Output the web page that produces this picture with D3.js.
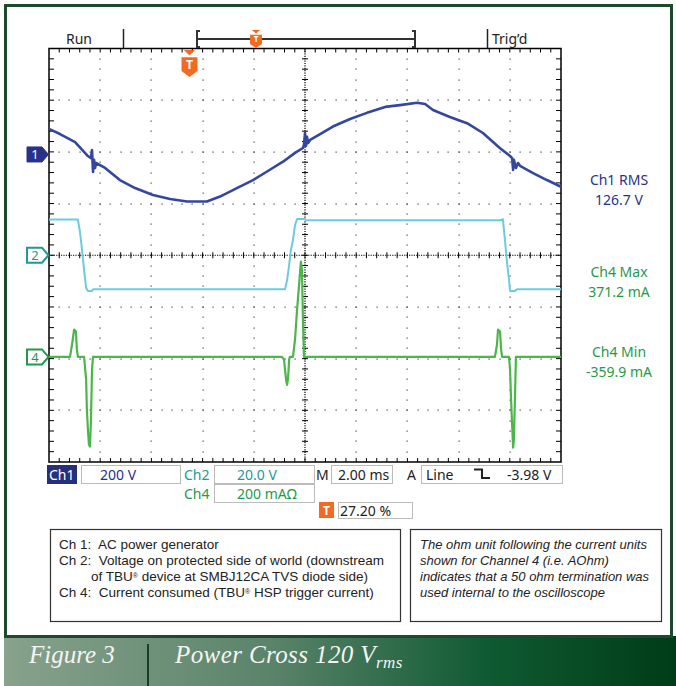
<!DOCTYPE html>
<html>
<head>
<meta charset="utf-8">
<script src="https://cdn.jsdelivr.net/npm/d3@7"></script>
<style>
  body { margin: 0; background: #fff; }
  text { font-family: "Noto Sans", sans-serif; white-space: pre; }
</style>
</head>
<body>
<div id="chart"></div>
<script>
// time in ms (2 ms/div, 10 div)
const ch1Time = [0, 0.43, 1.02, 1.52, 1.64, 1.68, 1.72, 1.76, 1.80, 1.84, 2.19, 2.77, 3.36, 4.06, 4.73, 5.39, 6.17, 6.68, 7.34, 7.97, 8.55, 9.14, 9.61, 9.92, 9.96, 10.0, 10.04, 10.08, 10.12, 10.20, 10.59, 11.09, 11.76, 12.42, 13.13, 13.71, 14.38, 14.69, 15.0, 15.66, 16.33, 16.95, 17.62, 18.01, 18.09, 18.13, 18.16, 18.24, 18.32, 18.40, 18.91, 19.45, 20];
// Ch1 volts (200 V/div)
const ch1Volts = [99, 79, 48, -6, -14, 17, -68, -21, -52, -33, -52, -99, -130, -157, -172, -182, -182, -163, -130, -99, -64, -28, 6, 25, 37, 83, 33, 68, 44, 56, 79, 108, 137, 161, 184, 191, 200, 195, 172, 145, 121, 83, 24, -6, -14, -60, -21, -52, -33, -44, -72, -99, -125];

const ch2Time = [0, 1.13, 1.21, 1.29, 1.37, 1.45, 1.52, 1.68, 1.72, 9.22, 9.30, 9.38, 9.45, 9.53, 9.61, 9.69, 10.0, 10.04, 17.62, 17.73, 17.81, 17.89, 17.97, 18.01, 18.20, 18.28, 20];
// Ch2 volts (20 V/div)
const ch2Volts = [13.8, 13.8, 9.0, 2.1, -5.7, -12.6, -13.8, -13.8, -13.2, -13.2, -9.6, -3.8, 2.1, 5.9, 11.7, 14.0, 14.0, 13.5, 13.5, 14.0, 5.9, -2.6, -9.6, -13.8, -13.8, -13.2, -13.2];

const ch4Time = [0, 0.82, 0.90, 0.98, 1.05, 1.09, 1.13, 1.37, 1.45, 1.48, 1.52, 1.56, 1.60, 1.64, 1.68, 1.72, 9.10, 9.18, 9.26, 9.30, 9.34, 9.38, 9.41, 9.53, 9.61, 9.69, 9.77, 9.84, 9.88, 9.92, 9.96, 17.42, 17.50, 17.54, 17.62, 17.66, 17.70, 17.97, 18.01, 18.05, 18.09, 18.13, 18.16, 18.20, 18.24, 20];
// Ch4 current in mA (200 mA/div)
const ch4Amps = [0, 0, 48, 106, 98, 28, 0, 0, -88, -204, -281, -339, -347, -242, -49, 0, 0, -10, -88, -108, -80, -10, 0, 0, 67, 183, 280, 369, 338, 144, 0, 0, 48, 106, 98, 28, 0, 0, -49, -165, -262, -351, -320, -165, 0, 0];

const measureNames = ["Ch1 RMS", "Ch4 Max", "Ch4 Min"];
const measureValues = ["126.7 V", "371.2 mA", "-359.9 mA"];

const legendLeft = ["Ch 1:  AC power generator", "Ch 2:  Voltage on protected side of world (downstream", "of TBU\u00ae device at SMBJ12CA TVS diode side)", "Ch 4:  Current consumed (TBU\u00ae HSP trigger current)"];
const legendRight = ["The ohm unit following the current units", "shown for Channel 4 (i.e. AOhm)", "indicates that a 50 ohm termination was", "used internal to the oscilloscope"];

(function () {
    var width = 676, height = 686;
    var x0 = 49, x1 = 561, y0 = 48.5, y1 = 462;
    var orange = "#f26b21";
    var navy = "#28318a", teal = "#1f9898", green = "#1f9a4c";

    var svg = d3.select("#chart").append("svg")
        .attr("width", width)
        .attr("height", height);

    var defs = svg.append("defs");
    var grad = defs.append("linearGradient").attr("id", "band");
    grad.append("stop").attr("offset", "0").attr("stop-color", "#88a28c");
    grad.append("stop").attr("offset", "0.4").attr("stop-color", "#5a836a");
    grad.append("stop").attr("offset", "0.72").attr("stop-color", "#0f5a32");
    grad.append("stop").attr("offset", "1").attr("stop-color", "#003c18");

    // frame + caption band
    svg.append("rect").attr("x", 4).attr("y", 636).attr("width", 672).attr("height", 50)
        .attr("fill", "url(#band)");
    svg.append("rect").attr("x", 5.5).attr("y", 5.5).attr("width", 666).attr("height", 631)
        .attr("fill", "none").attr("stroke", "#1d4a2c").attr("stroke-width", 3);
    svg.append("line").attr("x1", 148).attr("x2", 148).attr("y1", 644).attr("y2", 686)
        .attr("stroke", "#1b3f25").attr("stroke-width", 2);
    svg.append("text").attr("x", 29).attr("y", 663)
        .style("font-family", "'Liberation Serif', serif").style("font-style", "italic")
        .style("font-size", "25px").attr("fill", "#f4f4f4").text("Figure 3");
    var cap = svg.append("text").attr("x", 175).attr("y", 663)
        .style("font-family", "'Liberation Serif', serif").style("font-style", "italic")
        .style("font-size", "25px").style("letter-spacing", "0.4px").attr("fill", "#f4f4f4");
    cap.append("tspan").text("Power Cross 120 V");
    cap.append("tspan").attr("dy", 5).style("font-size", "17px").text("rms");

    var xScale = d3.scaleLinear().domain([0, 20]).range([x0, x1]);
    var yDiv = d3.scaleLinear().domain([-4, 4]).range([y1, y0]);

    var g = svg.append("g");

    // grid dots along major lines
    var minorX = d3.range(1, 50).map(k => xScale(k * 0.4));
    var minorY = d3.range(1, 40).map(k => yDiv(-4 + k * 0.2));
    var majorX = d3.range(1, 10).filter(i => i != 5).map(i => xScale(i * 2));
    var majorY = d3.range(1, 8).filter(j => j != 4).map(j => yDiv(-4 + j));
    var dots = [];
    majorX.forEach(x => minorY.forEach(y => dots.push([x, y])));
    majorY.forEach(y => minorX.forEach(x => dots.push([x, y])));
    g.selectAll(".dot").data(dots).enter().append("rect")
        .attr("x", d => Math.round(d[0]) - 0.5).attr("y", d => Math.round(d[1]) - 0.5)
        .attr("width", 1.2).attr("height", 1.2).attr("fill", "#444");

    // center axes
    var cx = xScale(10), cy = yDiv(0);
    g.append("line").attr("x1", x0).attr("x2", x1).attr("y1", cy).attr("y2", cy)
        .attr("stroke", "#000").attr("stroke-width", 1.2).attr("stroke-dasharray", "1.2,1.2");
    g.append("line").attr("x1", cx).attr("x2", cx).attr("y1", y0).attr("y2", y1)
        .attr("stroke", "#000").attr("stroke-width", 1.2).attr("stroke-dasharray", "1.2,1.2");
    g.selectAll(".cxt").data(minorX).enter().append("line")
        .attr("x1", d => d).attr("x2", d => d).attr("y1", cy - 3).attr("y2", cy + 3)
        .attr("stroke", "#000");
    g.selectAll(".cyt").data(minorY).enter().append("line")
        .attr("x1", cx - 3).attr("x2", cx + 3).attr("y1", d => d).attr("y2", d => d)
        .attr("stroke", "#000");

    // edge ticks
    g.selectAll(".tt").data(minorX).enter().append("line")
        .attr("x1", d => d).attr("x2", d => d).attr("y1", y0).attr("y2", y0 + 4).attr("stroke", "#000");
    g.selectAll(".bt").data(minorX).enter().append("line")
        .attr("x1", d => d).attr("x2", d => d).attr("y1", y1 - 4).attr("y2", y1).attr("stroke", "#000");
    g.selectAll(".lt").data(minorY).enter().append("line")
        .attr("x1", x0).attr("x2", x0 + 5).attr("y1", d => d).attr("y2", d => d).attr("stroke", "#000");
    g.selectAll(".rt").data(minorY).enter().append("line")
        .attr("x1", x1 - 5).attr("x2", x1).attr("y1", d => d).attr("y2", d => d).attr("stroke", "#000");

    g.append("rect").attr("x", x0).attr("y", y0).attr("width", x1 - x0).attr("height", y1 - y0)
        .attr("fill", "none").attr("stroke", "#000").attr("stroke-width", 1.5);

    // traces
    var channels = [
        { t: ch2Time, v: ch2Volts, off: 0, per: 20, color: "#6ccbe0", w: 2 },
        { t: ch4Time, v: ch4Amps, off: -1.967, per: 200, color: "#4cb64a", w: 2.2 },
        { t: ch1Time, v: ch1Volts, off: 1.95, per: 200, color: "#34479e", w: 2.6 }
    ];
    channels.forEach(function (c) {
        var pts = c.t.map((t, i) => [xScale(t), yDiv(c.off + c.v[i] / c.per)]);
        g.append("path").attr("d", d3.line()(pts))
            .attr("fill", "none").attr("stroke", c.color).attr("stroke-width", c.w)
            .attr("stroke-linejoin", "round");
    });

    // channel markers
    var markers = [
        { label: "1", off: 1.95, fill: navy, stroke: navy, txt: "#fff" },
        { label: "2", off: 0, fill: "#fff", stroke: teal, txt: teal },
        { label: "4", off: -1.967, fill: "#fff", stroke: green, txt: green }
    ];
    markers.forEach(function (m) {
        var y = yDiv(m.off);
        svg.append("path")
            .attr("d", `M27,${y - 7.5} L42,${y - 7.5} L48.5,${y} L42,${y + 7.5} L27,${y + 7.5} Z`)
            .attr("fill", m.fill).attr("stroke", m.stroke).attr("stroke-width", m.fill == "#fff" ? 2 : 1);
        svg.append("text").attr("x", 35).attr("y", y + 5).attr("text-anchor", "middle")
            .style("font-size", "13px").attr("fill", m.txt).text(m.label);
    });

    // header
    svg.append("text").attr("x", 66).attr("y", 44).style("font-size", "14px").attr("fill", "#222").text("Run");
    svg.append("line").attr("x1", 123.5).attr("x2", 123.5).attr("y1", 29).attr("y2", y0).attr("stroke", "#222").attr("stroke-width", 1.5);
    svg.append("line").attr("x1", 487.5).attr("x2", 487.5).attr("y1", 29).attr("y2", y0).attr("stroke", "#222").attr("stroke-width", 1.5);
    svg.append("text").attr("x", 492).attr("y", 44).style("font-size", "14px").attr("fill", "#222").text("Trig\u2019d");
    svg.append("path").attr("d", "M200,31 L197,31 L197,47 L200,47 M197,39 L415,39 M412,31 L415,31 L415,47 L412,47")
        .attr("fill", "none").attr("stroke", "#333").attr("stroke-width", 2);

    function trigMarker(cx, top, w, h) {
        svg.append("path").attr("d", `M${cx - w * 0.35},${top} L${cx + w * 0.35},${top} L${cx},${top + h * 0.2} Z`).attr("fill", orange);
        var bt = top + h * 0.27;
        svg.append("path").attr("d", `M${cx - w / 2},${bt} L${cx + w / 2},${bt} L${cx + w / 2},${top + h * 0.78} L${cx},${top + h} L${cx - w / 2},${top + h * 0.78} Z`).attr("fill", orange);
        svg.append("text").attr("x", cx).attr("y", bt + h * 0.42).attr("text-anchor", "middle")
            .style("font-size", (h * 0.45) + "px").style("font-weight", "bold").attr("fill", "#fff").text("T");
    }
    trigMarker(256, 30, 12, 18);
    trigMarker(189.5, 50, 16, 27);

    // measurements
    var mColors = [navy, green, green];
    var mY = [185, 277, 357];
    measureNames.forEach(function (n, i) {
        svg.append("text").attr("x", 619).attr("y", mY[i]).attr("text-anchor", "middle")
            .style("font-size", "14px").attr("fill", mColors[i]).text(n);
        svg.append("text").attr("x", 619).attr("y", mY[i] + 20).attr("text-anchor", "middle")
            .style("font-size", "14px").attr("fill", mColors[i]).text(measureValues[i]);
    });

    // status boxes
    function box(x, y, w, h) {
        svg.append("rect").attr("x", x + 0.5).attr("y", y + 0.5).attr("width", w).attr("height", h)
            .attr("fill", "#fff").attr("stroke", "#bbb");
    }
    function label(x, y, s, col) {
        svg.append("text").attr("x", x).attr("y", y).style("font-size", "14px").attr("fill", col).text(s);
    }
    svg.append("rect").attr("x", 47).attr("y", 465).attr("width", 30).attr("height", 19).attr("fill", "#262f7c");
    label(49, 479.5, "Ch1", "#fff");
    box(81, 465, 99, 18); label(100, 479.5, "200 V", navy);
    label(184, 479.5, "Ch2", teal);
    box(214, 465, 100, 18); label(237, 479.5, "20.0 V", teal);
    label(316, 479.5, "M", "#222");
    box(331, 465, 61, 18); label(338, 479.5, "2.00 ms", "#222");
    label(407, 479.5, "A", "#222");
    box(421, 465, 141, 18); label(426, 479.5, "Line", "#222");
    svg.append("path").attr("d", "M474,469.5 L482,469.5 L482,478 L490,478")
        .attr("fill", "none").attr("stroke", "#222").attr("stroke-width", 2);
    label(507, 479.5, "-3.98 V", "#222");
    label(184, 498.5, "Ch4", green);
    box(214, 484, 100, 18); label(237, 498.5, "200 mA\u03a9", green);
    svg.append("rect").attr("x", 319).attr("y", 502).attr("width", 15).attr("height", 16).attr("fill", orange);
    svg.append("text").attr("x", 326.5).attr("y", 515).attr("text-anchor", "middle")
        .style("font-size", "12px").style("font-weight", "bold").attr("fill", "#fff").text("T");
    box(338, 502, 74, 16); label(340, 515.5, "27.20 %", "#222");

    // legend boxes
    svg.append("rect").attr("x", 50.5).attr("y", 529.5).attr("width", 350).attr("height", 92)
        .attr("fill", "none").attr("stroke", "#333").attr("stroke-width", 1.2);
    svg.append("rect").attr("x", 410.5).attr("y", 529.5).attr("width", 251).attr("height", 92)
        .attr("fill", "none").attr("stroke", "#333").attr("stroke-width", 1.2);
    legendLeft.forEach(function (s, i) {
        var t = svg.append("text").attr("x", i == 2 ? 91 : 59).attr("y", 549 + i * 16)
            .style("font-family", "'Liberation Sans', Arial, sans-serif")
            .style("font-size", "13.5px").attr("fill", "#222");
        s.split("\u00ae").forEach(function (part, k) {
            if (k > 0) t.append("tspan").attr("baseline-shift", "super").style("font-size", "7px").text("\u00ae");
            t.append("tspan").text(part);
        });
    });
    legendRight.forEach(function (s, i) {
        svg.append("text").attr("x", 420).attr("y", 549 + i * 16)
            .style("font-family", "'Liberation Sans', Arial, sans-serif")
            .style("font-size", "13px").style("font-style", "italic").attr("fill", "#222").text(s);
    });
})();
</script>
</body>
</html>
